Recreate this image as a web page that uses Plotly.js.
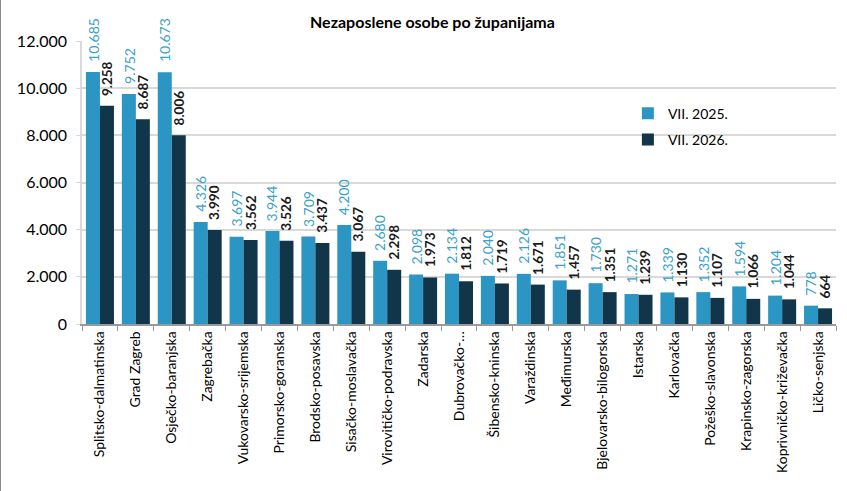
<!DOCTYPE html>
<html>
<head>
<meta charset="utf-8">
<script src="https://cdn.plot.ly/plotly-3.0.1.min.js"></script>
<style>
  body { margin: 0; background: #fff; }
  #myDiv { width: 846px; height: 491px; border-left: 1px solid #8c8c8c; }
</style>
</head>
<body>
<div id="myDiv"></div>
<script>
var zupanije = ['Splitsko-dalmatinska', 'Grad Zagreb', 'Osječko-baranjska', 'Zagrebačka',
  'Vukovarsko-srijemska', 'Primorsko-goranska', 'Brodsko-posavska', 'Sisačko-moslavačka',
  'Virovitičko-podravska', 'Zadarska', 'Dubrovačko-…', 'Šibensko-kninska', 'Varaždinska',
  'Međimurska', 'Bjelovarsko-bilogorska', 'Istarska', 'Karlovačka', 'Požeško-slavonska',
  'Krapinsko-zagorska', 'Koprivničko-križevačka', 'Ličko-senjska'];

var srpanj2025 = [10685, 9752, 10673, 4326, 3697, 3944, 3709, 4200, 2680, 2098, 2134,
  2040, 2126, 1851, 1730, 1271, 1339, 1352, 1594, 1204, 778];

var srpanj2026 = [9258, 8687, 8006, 3990, 3562, 3526, 3437, 3067, 2298, 1973, 1812,
  1719, 1671, 1457, 1351, 1239, 1130, 1107, 1066, 1044, 664];

var fontName = 'Lato, "Open Sans", sans-serif';

// 12345 -> "12.345"
function fmt(v) {
  return String(v).replace(/\B(?=(\d{3})+(?!\d))/g, '.');
}

var trace1 = {
  x: zupanije,
  y: srpanj2025,
  name: 'VII. 2025.',
  legendgroup: 'a',
  type: 'bar',
  marker: { color: '#2b96c3' }
};

var trace2 = {
  x: zupanije,
  y: srpanj2026,
  name: 'VII. 2026.',
  legendgroup: 'b',
  type: 'bar',
  marker: { color: '#11364a' }
};

// value labels, rotated, sitting on top of each bar
var labels = [];
for (var i = 0; i < zupanije.length; i++) {
  labels.push({
    x: zupanije[i], y: srpanj2025[i], xref: 'x', yref: 'y',
    text: fmt(srpanj2025[i]), showarrow: false, textangle: -90,
    xanchor: 'center', yanchor: 'bottom', xshift: -7, yshift: 8,
    font: { size: 14, color: '#3a9fca', family: fontName }
  });
  labels.push({
    x: zupanije[i], y: srpanj2026[i], xref: 'x', yref: 'y',
    text: fmt(srpanj2026[i]), showarrow: false, textangle: -90,
    xanchor: 'center', yanchor: 'bottom', xshift: 7, yshift: 8,
    font: { size: 13.5, color: '#1a1a1a', family: fontName, weight: 'bold' }
  });
}

var layout = {
  width: 846,
  height: 491,
  margin: { l: 81, r: 11, t: 41, b: 167, pad: 0 },
  separators: ',.',
  font: { family: fontName, color: '#000' },
  title: {
    text: '<b>Nezaposlene osobe po županijama</b>',
    x: 0.51, xanchor: 'center',
    y: 0.955, yanchor: 'middle',
    font: { size: 16, family: fontName, color: '#000' }
  },
  barmode: 'group',
  bargap: 0.22,
  bargroupgap: 0,
  showlegend: true,
  legend: {
    x: 0.724, y: 0.8, xanchor: 'left', yanchor: 'top',
    font: { size: 14, family: fontName },
    traceorder: 'grouped',
    tracegroupgap: 5,
    itemwidth: 30,
    bgcolor: 'rgba(0,0,0,0)'
  },
  annotations: labels,
  xaxis: {
    tickangle: -90,
    tickfont: { size: 14, family: fontName },
    ticks: 'outside',
    tickson: 'boundaries',
    ticklen: 5,
    tickcolor: '#999',
    showline: true,
    linecolor: '#999',
    linewidth: 1.5
  },
  yaxis: {
    range: [0, 12000],
    dtick: 2000,
    tickformat: ',d',
    tickfont: { size: 16, family: fontName },
    ticklabelstandoff: 6,
    showgrid: true,
    gridcolor: '#d9d9d9',
    gridwidth: 1.5,
    showline: true,
    linecolor: '#d9d9d9',
    linewidth: 1.5,
    ticks: 'outside',
    ticklen: 4,
    tickcolor: '#d9d9d9',
    zeroline: false
  },
  plot_bgcolor: '#fff',
  paper_bgcolor: '#fff'
};

Plotly.newPlot('myDiv', [trace1, trace2], layout, { displayModeBar: false });
</script>
</body>
</html>
